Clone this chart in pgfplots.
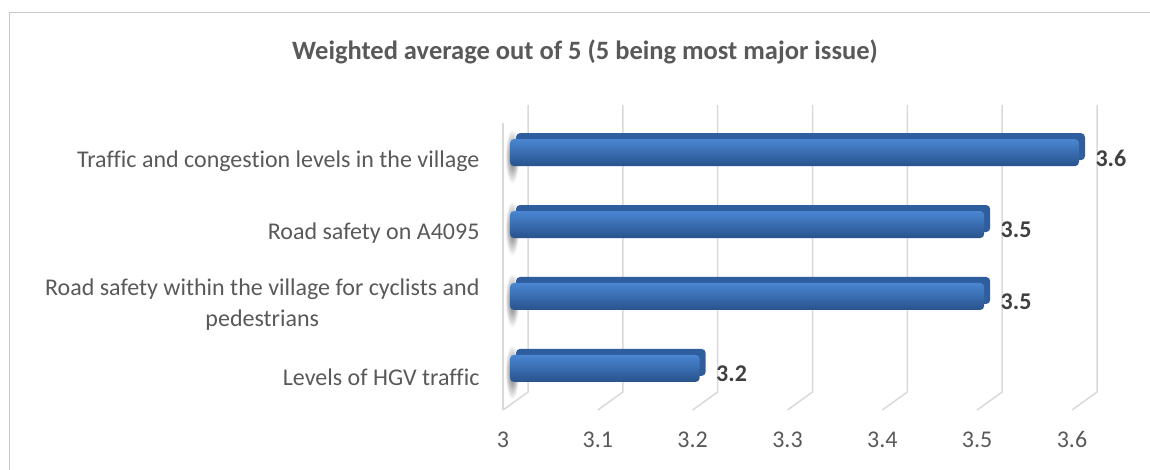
\documentclass[border=0pt]{standalone}
\usepackage{fontspec}
\setmainfont{Carlito}[Ligatures=NoCommon]
\usepackage{pgfplots}
\usepackage{pgfplotstable}
\pgfplotsset{compat=1.18}
\definecolor{gridc}{HTML}{D9D9D9}
\definecolor{txt}{HTML}{595959}
\definecolor{lbl}{HTML}{404040}
\definecolor{bartop}{HTML}{2F5E9E}
\definecolor{barA}{HTML}{4A86D2}
\definecolor{barB}{HTML}{3A72BE}
\definecolor{barC}{HTML}{28528C}
\pgfplotstableread{
idx value label
0 3.2 3.2
1 3.5 3.5
2 3.5 3.5
3 3.6 3.6
}\datatable
\begin{document}
\begin{tikzpicture}
\path[use as bounding box] (0pt,0pt) rectangle (1150pt,-470pt);
\draw[gridc!80!gray, line width=1.2pt] (1150pt,-12.5pt) -- (9.5pt,-12.5pt) -- (9.5pt,-470pt);
\node[font=\fontsize{26.5}{30}\selectfont\bfseries, text=txt] at (585pt,-52pt) {Weighted average out of 5 (5 being most major issue)};
\begin{axis}[
  at={(503pt,-410pt)}, anchor=south west,
  scale only axis, width=569pt, height=287pt,
  xmin=0, xmax=0.6, ymin=-0.46, ymax=3.53,
  clip=false,
  axis line style={draw=none},
  major tick length=0pt,
  xtick={0,0.1,0.2,0.3,0.4,0.5,0.6},
  xticklabels={3,3.1,3.2,3.3,3.4,3.5,3.6},
  ytick={0,1,2,3},
  yticklabels={Levels of HGV traffic,Road safety within the village for cyclists and\\pedestrians,Road safety on A4095,Traffic and congestion levels in the village},
  yticklabel style={align=center, text=txt, font=\fontsize{24}{31}\selectfont, xshift=-20pt},
  xticklabel style={text=txt, font=\fontsize{24}{28}\selectfont, yshift=-18pt},
]
% wall shadows
\pgfplotsinvokeforeach{0,1,2,3}{
  \fill[inner color=black!60, outer color=white] ([xshift=2pt,yshift=2pt]axis cs:0,#1-0.34) rectangle ([xshift=16pt,yshift=2pt]axis cs:0,#1+0.42);
}
% grid
\pgfplotsinvokeforeach{0,0.1,0.2,0.3,0.4,0.5,0.6}{
  \draw[gridc, line width=1.5pt] (axis cs:#1,-0.46) -- ([xshift=25pt,yshift=18pt]axis cs:#1,-0.46) -- ([xshift=25pt,yshift=18pt]axis cs:#1,3.53);
}
\draw[gridc, line width=1.5pt] (axis cs:0,-0.46) -- (axis cs:0,3.53);
% bars
\pgfplotsinvokeforeach{0,1,2,3}{
  \addplot[xbar, bar width=27pt, bar shift=8.5pt, draw=none, fill=bartop, xshift=13pt, yshift=6pt, rounded corners=4pt,
    restrict y to domain=#1:#1] table[x expr=\thisrow{value}-3, y=idx] {\datatable};
  \addplot[xbar, bar width=27pt, bar shift=8.5pt, draw=none, top color=barA, middle color=barB, bottom color=barC, xshift=7pt, rounded corners=4pt,
    restrict y to domain=#1:#1,
    nodes near coords, point meta=explicit symbolic,
    every node near coord/.append style={anchor=west, xshift=13pt, yshift=3pt, text=lbl, font=\fontsize{24}{28}\selectfont\bfseries}]
    table[x expr=\thisrow{value}-3, y=idx, meta=label] {\datatable};
}
\end{axis}
\end{tikzpicture}
\end{document}
